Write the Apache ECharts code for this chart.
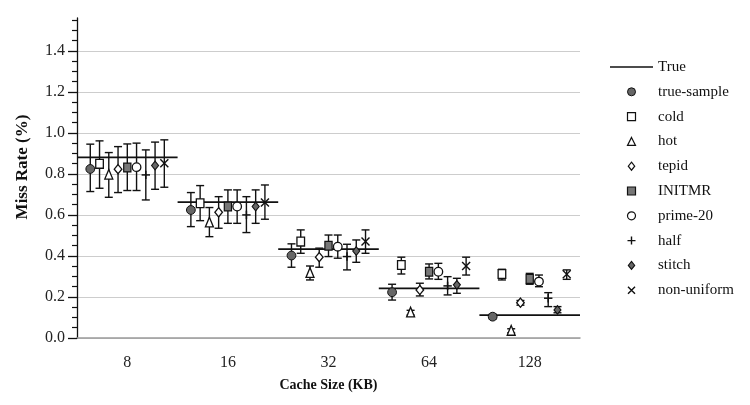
<!DOCTYPE html>
<html><head><meta charset="utf-8">
<script src="https://cdn.jsdelivr.net/npm/echarts@6/dist/echarts.min.js"></script>
<style>html,body{margin:0;padding:0;background:#fff}#c{width:750px;height:405px}</style>
</head><body><div id="c"></div>
<script>
const categories = ['8', '16', '32', '64', '128'];
const yTickLabels = [0.0, 0.2, 0.4, 0.6, 0.8, 1.0, 1.2, 1.4];
const trueRate = [0.881, 0.662, 0.433, 0.242, 0.112];

const trueSampleMean = [0.824, 0.624, 0.402, 0.223, 0.104];
const trueSampleLow  = [0.714, 0.543, 0.345, 0.185, 0.093];
const trueSampleHigh = [0.945, 0.709, 0.459, 0.262, 0.116];

const coldMean = [0.849, 0.657, 0.470, 0.356, 0.312];
const coldLow  = [0.730, 0.572, 0.413, 0.312, 0.283];
const coldHigh = [0.961, 0.743, 0.527, 0.394, 0.335];

const hotMean = [0.795, 0.562, 0.316, 0.123, 0.034];
const hotLow  = [0.686, 0.494, 0.283, 0.112, 0.025];
const hotHigh = [0.904, 0.636, 0.351, 0.135, 0.045];

const tepidMean = [0.823, 0.613, 0.394, 0.234, 0.172];
const tepidLow  = [0.709, 0.535, 0.345, 0.205, 0.160];
const tepidHigh = [0.933, 0.689, 0.438, 0.267, 0.183];

const initmrMean = [0.831, 0.641, 0.450, 0.323, 0.288];
const initmrLow  = [0.719, 0.559, 0.397, 0.288, 0.262];
const initmrHigh = [0.946, 0.722, 0.502, 0.361, 0.315];

const prime20Mean = [0.833, 0.641, 0.445, 0.323, 0.275];
const prime20Low  = [0.719, 0.559, 0.389, 0.286, 0.250];
const prime20High = [0.950, 0.722, 0.502, 0.364, 0.307];

const halfMean = [0.795, 0.600, 0.397, 0.254, 0.194];
const halfLow  = [0.673, 0.514, 0.332, 0.210, 0.153];
const halfHigh = [0.917, 0.689, 0.457, 0.299, 0.221];

const stitchMean = [0.841, 0.641, 0.424, 0.259, 0.137];
const stitchLow  = [0.725, 0.559, 0.369, 0.218, 0.123];
const stitchHigh = [0.955, 0.722, 0.478, 0.291, 0.153];

const nonUniformMean = [0.852, 0.660, 0.470, 0.351, 0.311];
const nonUniformLow  = [0.735, 0.579, 0.413, 0.307, 0.286];
const nonUniformHigh = [0.966, 0.746, 0.527, 0.394, 0.332];

const FONT = '"Liberation Serif", "Times New Roman", serif';
const INK = '#111';

const methods = [
  { name: 'true-sample', kind: 'dot',      mean: trueSampleMean, low: trueSampleLow, high: trueSampleHigh },
  { name: 'cold',        kind: 'square',   mean: coldMean,       low: coldLow,       high: coldHigh },
  { name: 'hot',         kind: 'triangle', mean: hotMean,        low: hotLow,        high: hotHigh },
  { name: 'tepid',       kind: 'diamond',  mean: tepidMean,      low: tepidLow,      high: tepidHigh },
  { name: 'INITMR',      kind: 'fsquare',  mean: initmrMean,     low: initmrLow,     high: initmrHigh },
  { name: 'prime-20',    kind: 'ring',     mean: prime20Mean,    low: prime20Low,    high: prime20High },
  { name: 'half',        kind: 'plus',     mean: halfMean,       low: halfLow,       high: halfHigh },
  { name: 'stitch',      kind: 'fdiamond', mean: stitchMean,     low: stitchLow,     high: stitchHigh },
  { name: 'non-uniform', kind: 'cross',    mean: nonUniformMean, low: nonUniformLow, high: nonUniformHigh }
];

function marker(kind, cx, cy) {
  const white = { fill: '#fff', stroke: INK, lineWidth: 1.3 };
  switch (kind) {
    case 'dot':
      return { type: 'circle', shape: { cx, cy, r: 4.4 }, style: { fill: '#666', stroke: INK, lineWidth: 1 } };
    case 'square':
      return { type: 'rect', shape: { x: cx - 3.8, y: cy - 4.4, width: 7.6, height: 8.8 }, style: white };
    case 'triangle':
      return { type: 'polygon', shape: { points: [[cx, cy - 5.5], [cx + 4, cy + 4.2], [cx - 4, cy + 4.2]] }, style: white };
    case 'diamond':
      return { type: 'polygon', shape: { points: [[cx, cy - 4.6], [cx + 3.8, cy], [cx, cy + 4.6], [cx - 3.8, cy]] }, style: white };
    case 'fsquare':
      return { type: 'rect', shape: { x: cx - 3.6, y: cy - 4.4, width: 7.2, height: 8.8 }, style: { fill: '#777', stroke: INK, lineWidth: 1.2 } };
    case 'ring':
      return { type: 'circle', shape: { cx, cy, r: 4.3 }, style: white };
    case 'plus':
      return { type: 'group', children: [
        { type: 'line', shape: { x1: cx - 4.2, y1: cy, x2: cx + 4.2, y2: cy }, style: { stroke: INK, lineWidth: 1.5 } },
        { type: 'line', shape: { x1: cx, y1: cy - 4.2, x2: cx, y2: cy + 4.2 }, style: { stroke: INK, lineWidth: 1.5 } }
      ] };
    case 'fdiamond':
      return { type: 'polygon', shape: { points: [[cx, cy - 4.3], [cx + 3.5, cy], [cx, cy + 4.3], [cx - 3.5, cy]] }, style: { fill: '#666', stroke: INK, lineWidth: 1.1 } };
    case 'cross':
      return { type: 'group', children: [
        { type: 'line', shape: { x1: cx - 4, y1: cy - 4, x2: cx + 4, y2: cy + 4 }, style: { stroke: INK, lineWidth: 1.4 } },
        { type: 'line', shape: { x1: cx - 4, y1: cy + 4, x2: cx + 4, y2: cy - 4 }, style: { stroke: INK, lineWidth: 1.4 } }
      ] };
  }
}

const legendIcons = {
  dot: { icon: 'circle', itemStyle: { color: '#666', borderColor: INK, borderWidth: 1 } },
  square: { icon: 'path://M0,0h8v8h-8z', itemStyle: { color: '#fff', borderColor: INK, borderWidth: 1.2 } },
  triangle: { icon: 'path://M4,0L8,8L0,8z', itemStyle: { color: '#fff', borderColor: INK, borderWidth: 1.2 } },
  diamond: { icon: 'path://M4,0L8,5L4,10L0,5z', itemStyle: { color: '#fff', borderColor: INK, borderWidth: 1.2 } },
  fsquare: { icon: 'path://M0,0h8v8h-8z', itemStyle: { color: '#777', borderColor: INK, borderWidth: 1.2 } },
  ring: { icon: 'circle', itemStyle: { color: '#fff', borderColor: INK, borderWidth: 1.2 } },
  plus: { icon: 'path://M3.3,0h1.4v3.3h3.3v1.4h-3.3v3.3h-1.4v-3.3h-3.3v-1.4h3.3z', itemStyle: { color: INK, borderWidth: 0 } },
  fdiamond: { icon: 'path://M4,0L8,5L4,10L0,5z', itemStyle: { color: '#666', borderColor: INK, borderWidth: 1.1 } },
  cross: { icon: 'path://M0,1L1,0L8,7L7,8ZM7,0L8,1L1,8L0,7Z', itemStyle: { color: INK, borderWidth: 0 } }
};

const STEP = 0.092;

const trueSeries = {
  name: 'True', type: 'custom', z: 2,
  data: categories.map((c, i) => [i, trueRate[i]]),
  encode: { x: 0, y: 1 },
  renderItem: (params, api) => {
    const p = api.coord([api.value(0), api.value(1)]);
    const band = api.size([1, 0])[0];
    return { type: 'line', shape: { x1: p[0] - band / 2, y1: p[1], x2: p[0] + band / 2, y2: p[1] },
      style: { stroke: INK, lineWidth: 1.7 } };
  }
};

const methodSeries = methods.map((m, k) => ({
  name: m.name, type: 'custom', z: 3,
  data: categories.map((c, i) => [i, m.mean[i], m.low[i], m.high[i]]),
  encode: { x: 0, y: [1, 2, 3] },
  renderItem: (params, api) => {
    const band = api.size([1, 0])[0];
    const base = api.coord([api.value(0), api.value(1)]);
    const cx = base[0] + (k - 4) * STEP * band;
    const cy = base[1];
    const yl = api.coord([api.value(0), api.value(2)])[1];
    const yh = api.coord([api.value(0), api.value(3)])[1];
    const es = { stroke: INK, lineWidth: 1.4 };
    return { type: 'group', children: [
      { type: 'line', shape: { x1: cx, y1: yh, x2: cx, y2: yl }, style: es },
      { type: 'line', shape: { x1: cx - 4, y1: yh, x2: cx + 4, y2: yh }, style: es },
      { type: 'line', shape: { x1: cx - 4, y1: yl, x2: cx + 4, y2: yl }, style: es },
      marker(m.kind, cx, cy)
    ] };
  }
}));

const minorTicks = [];
for (let v = 0.05; v < 1.56; v += 0.05) {
  const r = Math.round(v * 100) / 100;
  if (Math.round(r * 100) % 20 !== 0) minorTicks.push(r);
}

const gridColors = yTickLabels.map(() => '#cdcdcd').concat(['rgba(0,0,0,0)']);

const chart = echarts.init(document.getElementById('c'), null, { renderer: 'canvas' });
chart.setOption({
  animation: false,
  backgroundColor: '#fff',
  grid: { left: 77, right: 170, top: 18, bottom: 67, containLabel: false },
  xAxis: {
    type: 'category', data: categories, boundaryGap: true,
    axisLine: { show: true, lineStyle: { color: '#9a9a9a', width: 1.5 } },
    axisTick: { show: false },
    axisLabel: { margin: 17, fontSize: 16, fontFamily: FONT, color: '#222' },
    splitLine: { show: false },
    name: 'Cache Size (KB)', nameLocation: 'middle', nameGap: 40,
    nameTextStyle: { fontFamily: FONT, fontWeight: 'bold', fontSize: 14, color: INK }
  },
  yAxis: [
    {
      type: 'value', min: 0, max: 1.56, interval: 0.2, position: 'left',
      axisLine: { show: true, lineStyle: { color: INK, width: 1.3 } },
      axisTick: { show: true, length: 9, customValues: yTickLabels, lineStyle: { color: INK, width: 1.3 } },
      axisLabel: { customValues: yTickLabels, formatter: v => Number(v).toFixed(1), margin: 12, fontSize: 16, fontFamily: FONT, color: '#222' },
      splitLine: { show: true, lineStyle: { color: gridColors, width: 1.2 } }
    },
    {
      type: 'value', min: 0, max: 1.56, interval: 0.05, position: 'left',
      axisLine: { show: false },
      axisTick: { show: true, length: 5, customValues: minorTicks, lineStyle: { color: INK, width: 1.2 } },
      axisLabel: { show: false },
      splitLine: { show: false }
    }
  ],
  legend: {
    orient: 'vertical', left: 605, top: 54.5, itemWidth: 43, itemHeight: 8, itemGap: 9.8,
    selectedMode: false,
    textStyle: { fontFamily: FONT, fontSize: 15, color: INK, lineHeight: 15 },
    data: [{ name: 'True', icon: 'path://M0,0h43v1.6h-43z', itemStyle: { color: INK, borderWidth: 0 } }]
      .concat(methods.map(m => Object.assign({ name: m.name }, legendIcons[m.kind])))
  },
  graphic: [{
    type: 'text', x: 23, y: 167, rotation: Math.PI / 2,
    style: { text: 'Miss Rate (%)', font: 'bold 17px "Liberation Serif", serif', fill: INK,
      textAlign: 'center', textVerticalAlign: 'middle', align: 'center', verticalAlign: 'middle' }
  }],
  series: [trueSeries].concat(methodSeries)
});
</script>
</body></html>
